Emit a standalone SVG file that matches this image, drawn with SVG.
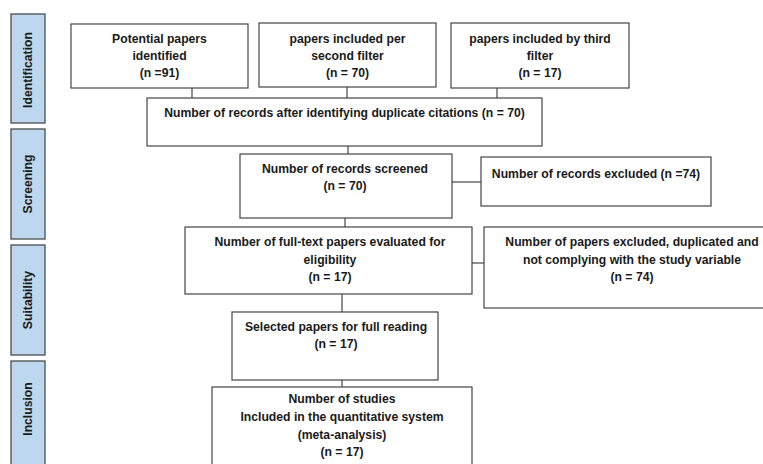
<svg xmlns="http://www.w3.org/2000/svg" width="763" height="464" viewBox="0 0 763 464">
<style>
.bg{fill:#ffffff}
.box{fill:#ffffff;stroke:#454545;stroke-width:1.2}
.side{fill:#bdd7ee;stroke:#4d4d4d;stroke-width:1.3}
.t{font-family:"Liberation Sans",Arial,sans-serif;font-weight:bold;font-size:12.2px;fill:#1a1a1a;text-anchor:middle}
.st{font-family:"Liberation Sans",Arial,sans-serif;font-weight:bold;font-size:12.2px;fill:#1a1a1a;text-anchor:middle}
.c{stroke:#454545;stroke-width:1.2;fill:none}
</style>
<rect class="bg" x="0" y="0" width="763" height="464"/>
<g id="phases">
<g id="phase-identification"><rect class="side" x="11" y="14" width="34" height="109"/><text class="st" transform="translate(31.5,70) rotate(-90)">Identification</text></g>
<g id="phase-screening"><rect class="side" x="11" y="129" width="34" height="110"/><text class="st" transform="translate(31.5,184) rotate(-90)">Screening</text></g>
<g id="phase-suitability"><rect class="side" x="11" y="245" width="34" height="110"/><text class="st" transform="translate(31.5,300) rotate(-90)">Suitability</text></g>
<g id="phase-inclusion"><rect class="side" x="11" y="361" width="34" height="106"/><text class="st" transform="translate(31.5,409) rotate(-90)">Inclusion</text></g>
</g>
<g id="connectors">
<path class="c" d="M192 88V98"/>
<path class="c" d="M347 87V98"/>
<path class="c" d="M497 88V98"/>
<path class="c" d="M348 146V154"/>
<path class="c" d="M452 182H481"/>
<path class="c" d="M345 218V227"/>
<path class="c" d="M472 263H484"/>
<path class="c" d="M342 294V312"/>
<path class="c" d="M342 380V387"/>
</g>
<g id="n1"><rect class="box" x="71" y="24" width="177" height="64"/>
<text class="t" x="159.5" y="43">Potential papers</text><text class="t" x="159.5" y="60">identified</text><text class="t" x="159.5" y="77">(n =91)</text></g>
<g id="n2"><rect class="box" x="259" y="23" width="177" height="64"/>
<text class="t" x="347.5" y="43">papers included per</text><text class="t" x="347.5" y="60">second filter</text><text class="t" x="347.5" y="77">(n = 70)</text></g>
<g id="n3"><rect class="box" x="451" y="23" width="178" height="65"/>
<text class="t" x="540" y="43">papers included by third</text><text class="t" x="540" y="60">filter</text><text class="t" x="540" y="77">(n = 17)</text></g>
<g id="n4"><rect class="box" x="147" y="98" width="395" height="48"/>
<text class="t" x="344.5" y="117">Number of records after identifying duplicate citations (n = 70)</text></g>
<g id="n5"><rect class="box" x="240" y="154" width="212" height="64"/>
<text class="t" x="345" y="173">Number of records screened</text><text class="t" x="345" y="190">(n = 70)</text></g>
<g id="n6"><rect class="box" x="481" y="157" width="230" height="49"/>
<text class="t" x="596" y="178">Number of records excluded (n =74)</text></g>
<g id="n7"><rect class="box" x="185" y="227" width="287" height="67"/>
<text class="t" x="330" y="246">Number of full-text papers evaluated for</text><text class="t" x="330" y="264">eligibility</text><text class="t" x="330" y="281">(n = 17)</text></g>
<g id="n8"><rect class="box" x="484" y="227" width="290" height="81"/>
<text class="t" x="632" y="246">Number of papers excluded, duplicated and</text><text class="t" x="632" y="264">not complying with the study variable</text><text class="t" x="632" y="281">(n = 74)</text></g>
<g id="n9"><rect class="box" x="232" y="312" width="206" height="68"/>
<text class="t" x="336" y="331">Selected papers for full reading</text><text class="t" x="336" y="348">(n = 17)</text></g>
<g id="n10"><rect class="box" x="212" y="387" width="260" height="90"/>
<text class="t" x="342" y="403">Number of studies</text><text class="t" x="342" y="421">Included in the quantitative system</text><text class="t" x="342" y="439">(meta-analysis)</text><text class="t" x="342" y="456">(n = 17)</text></g>
</svg>
